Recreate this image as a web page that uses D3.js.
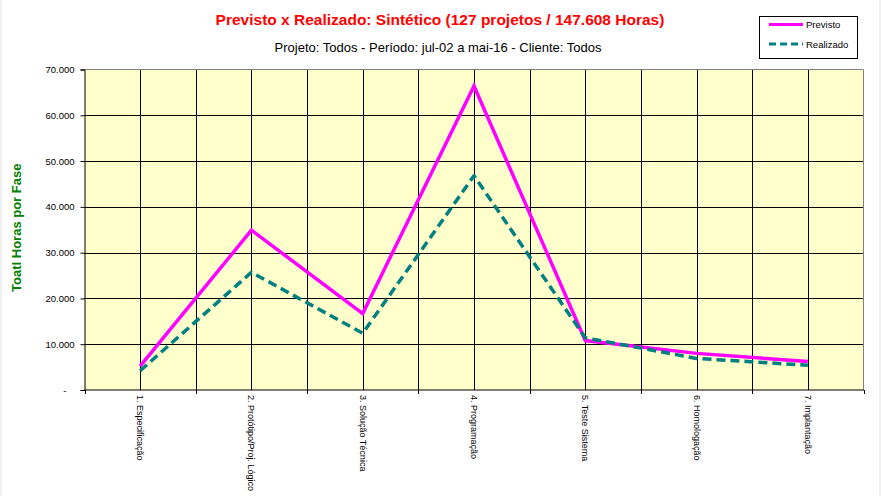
<!DOCTYPE html>
<html>
<head>
<meta charset="utf-8">
<script src="https://cdn.jsdelivr.net/npm/d3@7"></script>
<style>
  html, body { margin: 0; padding: 0; background: #fff; }
  svg { display: block; font-family: Arial, "Liberation Sans", sans-serif; }
</style>
</head>
<body>
<svg id="chart" width="881" height="496"></svg>
<script>
const categories = ["1. Especificação", "2. Protótipo/Proj. Lógico", "3. Solução Técnica", "4. Programação", "5. Teste Sistema", "6. Homologação", "7. Implantação"];
const previsto = [5200, 34900, 16700, 66400, 10800, 8000, 6200];
const realizado = [4200, 25700, 12400, 46800, 11400, 6900, 5400];
const yTicks = [0, 10000, 20000, 30000, 40000, 50000, 60000, 70000];
const seriesNames = ["Previsto", "Realizado"];
const titleText = "Previsto x Realizado: Sintético (127 projetos / 147.608 Horas)";
const subtitleText = "Projeto: Todos - Período: jul-02 a mai-16 - Cliente: Todos";
const yAxisTitle = "Toatl Horas por Fase";

const svg = d3.select("#chart");
const W = 881, H = 496;
const m = { left: 84.5, right: 863.5, top: 69.5, bottom: 390 };

// faint side strips
svg.append("rect").attr("x", 0).attr("y", 0).attr("width", 2).attr("height", H).attr("fill", "#f0f0f0");
svg.append("rect").attr("x", W - 2).attr("y", 0).attr("width", 2).attr("height", H).attr("fill", "#f0f0f0");

const x = d3.scaleBand().domain(categories).range([m.left, m.right]).padding(0);
const y = d3.scaleLinear().domain([0, 70000]).range([m.bottom, m.top]);

// plot background
svg.append("rect")
  .attr("x", m.left).attr("y", m.top)
  .attr("width", m.right - m.left).attr("height", m.bottom - m.top)
  .attr("fill", "#FFFFCC");

// horizontal gridlines
svg.append("g").selectAll("line").data(yTicks.filter(d => d > 0 && d < 70000)).join("line")
  .attr("x1", m.left).attr("x2", m.right)
  .attr("y1", d => Math.round(y(d)) + 0.5).attr("y2", d => Math.round(y(d)) + 0.5)
  .attr("stroke", "#000").attr("stroke-width", 1);

// vertical gridlines: category boundaries and centers
const vlines = [];
categories.forEach((c, i) => {
  if (i > 0) vlines.push(x(c));
  vlines.push(x(c) + x.bandwidth() / 2);
});
svg.append("g").selectAll("line").data(vlines).join("line")
  .attr("x1", d => Math.round(d) + 0.5).attr("x2", d => Math.round(d) + 0.5)
  .attr("y1", m.top).attr("y2", m.bottom)
  .attr("stroke", "#000").attr("stroke-width", 1);

// plot border (top/right gray)
svg.append("path")
  .attr("d", `M${m.left},${m.top}H${m.right}V${m.bottom}`)
  .attr("fill", "none").attr("stroke", "#808080").attr("stroke-width", 1);

// Y axis
const yAxis = d3.axisLeft(y).tickValues(yTicks).tickSize(4).tickPadding(6)
  .tickFormat(d => d === 0 ? "-" : d3.format(",")(d).replace(/,/g, "."));
const gy = svg.append("g").attr("transform", `translate(${m.left},0)`).call(yAxis);
gy.select(".domain").attr("stroke", "#000");
gy.selectAll(".tick line").attr("stroke", "#000");
gy.selectAll("text").attr("font-size", 9.5).attr("fill", "#000").attr("font-family", "Arial, 'Liberation Sans', sans-serif");
gy.selectAll(".tick").filter(d => d === 0).select("text").attr("dx", -8);

// X axis line + ticks at boundaries
svg.append("line").attr("x1", m.left).attr("x2", m.right + 0.5)
  .attr("y1", m.bottom).attr("y2", m.bottom).attr("stroke", "#000");
const bounds = categories.map(c => x(c)).concat([m.right]);
svg.append("g").selectAll("line").data(bounds).join("line")
  .attr("x1", d => Math.round(d) + 0.5).attr("x2", d => Math.round(d) + 0.5)
  .attr("y1", m.bottom).attr("y2", m.bottom + 4)
  .attr("stroke", "#000");

// X labels rotated
svg.append("g").selectAll("text").data(categories).join("text")
  .attr("transform", d => `translate(${x(d) + x.bandwidth() / 2 - 3},${m.bottom + 5}) rotate(90)`)
  .attr("font-size", 9).attr("fill", "#000")
  .attr("text-anchor", "start")
  .text(d => d);

// lines
const line = d3.line().x((d, i) => x(categories[i]) + x.bandwidth() / 2).y(d => y(d));
svg.append("path").datum(previsto).attr("d", line)
  .attr("fill", "none").attr("stroke", "#FF00FF").attr("stroke-width", 3.5)
  .attr("stroke-linejoin", "miter");
svg.append("path").datum(realizado).attr("d", line)
  .attr("fill", "none").attr("stroke", "#008080").attr("stroke-width", 3.5)
  .attr("stroke-dasharray", "9,5").attr("stroke-linejoin", "round");

// titles
svg.append("text").attr("x", 440).attr("y", 25).attr("text-anchor", "middle")
  .attr("font-size", 15.5).attr("font-weight", "bold").attr("fill", "#FF0000")
  .text(titleText);
svg.append("text").attr("x", 438).attr("y", 52).attr("text-anchor", "middle")
  .attr("font-size", 13).attr("fill", "#000")
  .text(subtitleText);

// y axis title
svg.append("text")
  .attr("transform", `translate(21,${(m.top + m.bottom) / 2 - 2}) rotate(-90)`)
  .attr("text-anchor", "middle")
  .attr("font-size", 13).attr("font-weight", "bold").attr("fill", "#008000")
  .text(yAxisTitle);

// legend
const lg = svg.append("g");
lg.append("rect").attr("x", 759.5).attr("y", 16.5).attr("width", 98).attr("height", 42)
  .attr("fill", "#fff").attr("stroke", "#000").attr("stroke-width", 1);
const legendStyles = [
  { color: "#FF00FF", dash: null },
  { color: "#008080", dash: "7,4" }
];
seriesNames.forEach((name, i) => {
  const yy = 24.5 + i * 19.5;
  lg.append("line").attr("x1", 769).attr("x2", 803).attr("y1", yy).attr("y2", yy)
    .attr("stroke", legendStyles[i].color).attr("stroke-width", 3)
    .attr("stroke-dasharray", legendStyles[i].dash);
  lg.append("text").attr("x", 806).attr("y", yy + 3.5)
    .attr("font-size", 9.5).attr("fill", "#000").text(name);
});
</script>
</body>
</html>
